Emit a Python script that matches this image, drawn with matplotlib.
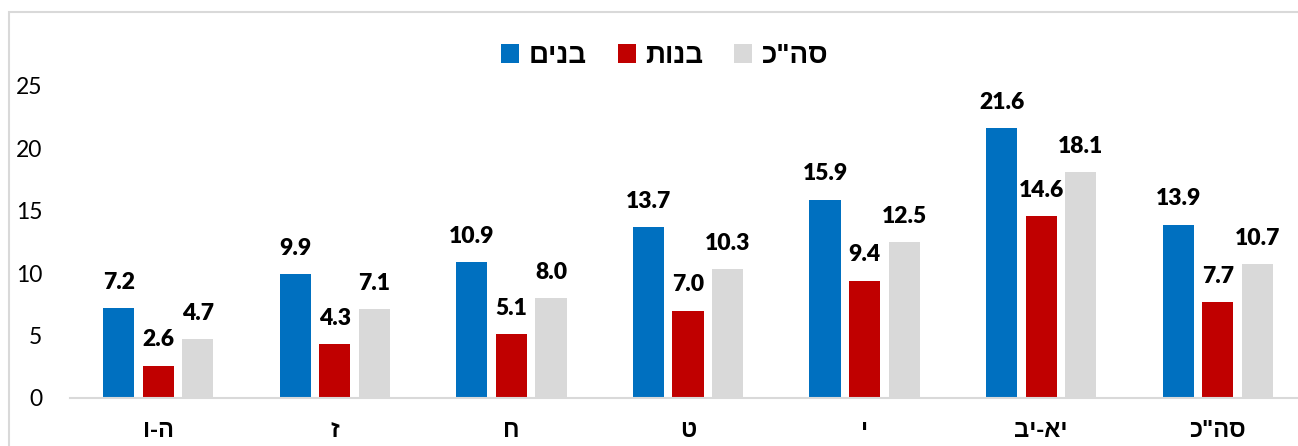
import numpy as np
import matplotlib.pyplot as plt
from matplotlib.patches import Rectangle

# data (Hebrew kept in logical order; reversed for display since matplotlib has no bidi)
grades = ['ה-ו', 'ז', 'ח', 'ט', 'י', 'יא-יב', 'סה"כ']
boys = [7.2, 9.9, 10.9, 13.7, 15.9, 21.6, 13.9]
girls = [2.6, 4.3, 5.1, 7.0, 9.4, 14.6, 7.7]
total = [4.7, 7.1, 8.0, 10.3, 12.5, 18.1, 10.7]
series_names = ['בנים', 'בנות', 'סה"כ']
colors = ['#0070C0', '#C00000', '#D9D9D9']
y_ticks = [0, 5, 10, 15, 20, 25]


def rtl(s):
    return s[::-1]


heb_font = ['Liberation Sans', 'DejaVu Sans']
num_font = ['Lato', 'DejaVu Sans']

W, H = 1298, 446
fig = plt.figure(figsize=(W / 100, H / 100), dpi=100)
ax = fig.add_axes([70 / W, (H - 398) / H, 1236 / W, 312 / H])

x = np.arange(len(grades))
step = 0.224
width = 0.176
bars = []
for i, (vals, name) in enumerate(zip([boys, girls, total], series_names)):
    b = ax.bar(x + (i - 1) * step, vals, width, color=colors[i], label=rtl(name), zorder=2)
    bars.append(b)
    for xi, v in zip(x + (i - 1) * step, vals):
        ax.annotate(f'{v:.1f}', (xi, v), xytext=(0, 11), textcoords='offset points',
                    ha='center', va='bottom', fontsize=16.5, fontweight='heavy',
                    family=num_font, color='black')

ax.set_xlim(-0.5, len(grades) - 0.5)
ax.set_ylim(0, 25)
ax.set_yticks(y_ticks)
ax.set_yticklabels([str(t) for t in y_ticks], family=num_font, fontsize=16.5)
ax.set_xticks(x)
ax.set_xticklabels([rtl(g) for g in grades], family=heb_font, fontsize=17, fontweight='bold')
ax.tick_params(axis='y', length=0, pad=20)
ax.tick_params(axis='x', length=0, pad=15)
for s in ['top', 'right', 'left']:
    ax.spines[s].set_visible(False)
ax.spines['bottom'].set_color('#D9D9D9')
ax.spines['bottom'].set_linewidth(1.5)

leg = fig.legend(handles=bars, labels=[rtl(n) for n in series_names], loc='center',
                 bbox_to_anchor=(665 / W, 1 - 56 / H), ncol=3, frameon=False,
                 prop={'family': heb_font, 'weight': 'bold', 'size': 20},
                 handlelength=0.65, handleheight=0.65, handletextpad=0.35,
                 columnspacing=1.1)

# chart border (cropped)
fig.patches.append(Rectangle((9 / W, -0.1), 1.2, 1 - 12 / H + 0.1, transform=fig.transFigure,
                             fill=False, edgecolor='#D9D9D9', linewidth=1.5))

fig.savefig('out.png', dpi=100)
